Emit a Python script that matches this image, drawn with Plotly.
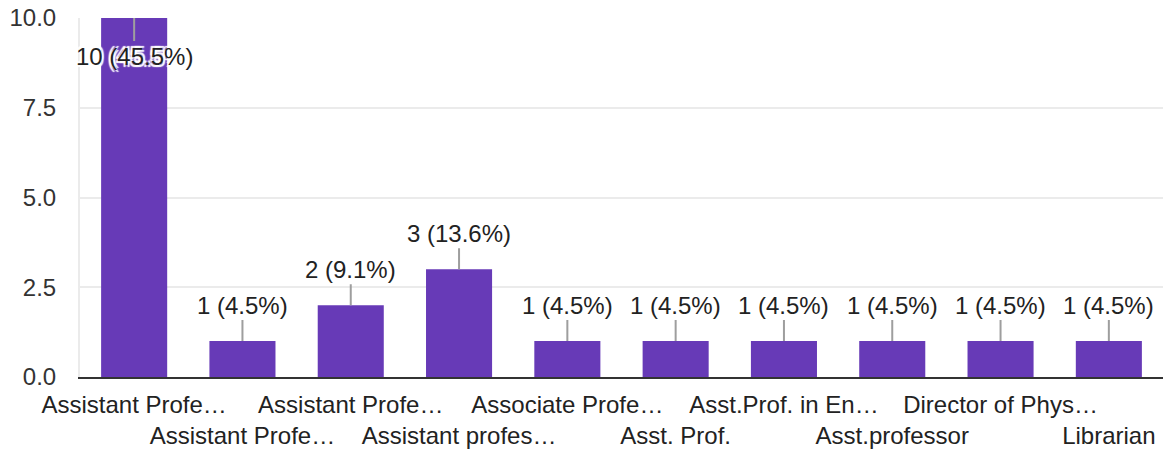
import plotly.graph_objects as go

categories = [
    "Assistant Profe…", "Assistant Profe…", "Assistant Profe…", "Assistant profes…",
    "Associate Profe…", "Asst. Prof.", "Asst.Prof. in En…", "Asst.professor",
    "Director of Phys…", "Librarian",
]
counts = [10, 1, 2, 3, 1, 1, 1, 1, 1, 1]
percents = ["45.5%", "4.5%", "9.1%", "13.6%", "4.5%", "4.5%", "4.5%", "4.5%", "4.5%", "4.5%"]
y_ticks = [0, 2.5, 5, 7.5, 10]
y_tick_labels = ["0.0", "2.5", "5.0", "7.5", "10.0"]

FONT = "Liberation Sans, Arial, sans-serif"
positions = list(range(len(categories)))
tick_text = [c if i % 2 == 0 else "<br>" + c for i, c in enumerate(categories)]

fig = go.Figure()
fig.add_trace(go.Bar(
    x=positions, y=counts, width=0.61,
    marker=dict(color="#673ab7", line=dict(width=0)),
    hoverinfo="skip",
))

halo = "-2px -2px 1px #fff, 2px -2px 1px #fff, -2px 2px 1px #fff, 2px 2px 1px #fff, 0 0 3px #fff"
for i, (c, p) in enumerate(zip(counts, percents)):
    inside = c >= max(counts)
    fig.add_annotation(
        x=positions[i], y=c, xref="x", yref="y",
        text=f"{c} ({p})",
        showarrow=True, arrowhead=0, arrowwidth=2, arrowcolor="#9e9e9e",
        ax=0, ay=(38 if inside else -36), standoff=0,
        font=dict(family=FONT, size=24, color="#222222",
                  shadow=(halo if inside else "none")),
    )

fig.update_layout(
    width=1168, height=453,
    margin=dict(l=80, r=5, t=18, b=76),
    paper_bgcolor="white", plot_bgcolor="white",
    showlegend=False,
    font=dict(family=FONT, size=24, color="#333333"),
    xaxis=dict(
        range=[-0.5, len(categories) - 0.5],
        tickmode="array", tickvals=positions, ticktext=tick_text,
        tickangle=0, automargin=False, ticklabelstandoff=5,
        showgrid=False, zeroline=False, ticks="",
        showline=True, linecolor="#333333", linewidth=2,
        tickfont=dict(family=FONT, size=24, color="#222222"),
        fixedrange=True,
    ),
    yaxis=dict(
        range=[0, 10], automargin=False, ticklabeloverflow="allow",
        tickmode="array", tickvals=y_ticks, ticktext=y_tick_labels,
        showgrid=True, gridcolor="#ebebeb", gridwidth=2,
        zeroline=False, showline=True, linecolor="#ebebeb", linewidth=2,
        ticks="", ticklabelstandoff=17,
        tickfont=dict(family=FONT, size=24, color="#333333"),
        fixedrange=True,
    ),
)

fig.write_html(
    "out.html",
    config={"displayModeBar": False},
    post_script="document.body.style.margin='0';document.body.style.overflow='hidden';",
)
